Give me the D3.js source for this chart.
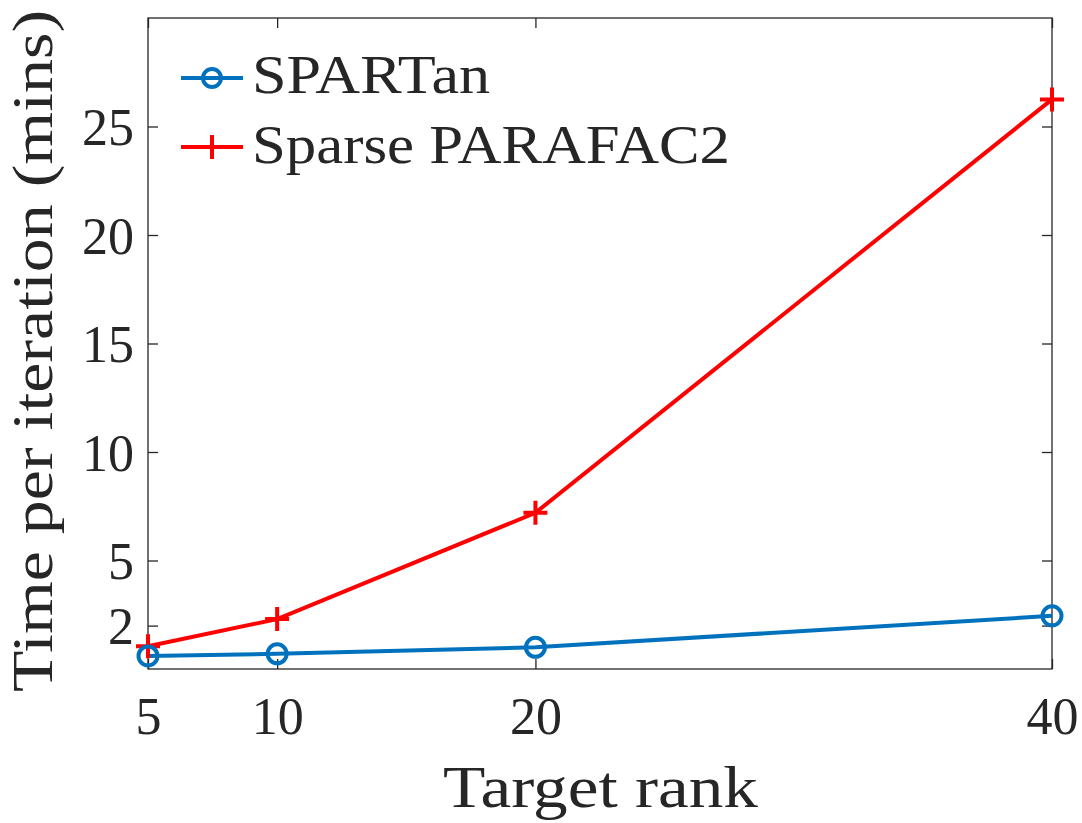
<!DOCTYPE html>
<html><head><meta charset="utf-8">
<script src="https://cdn.jsdelivr.net/npm/d3@7"></script>
<style>body{margin:0;background:#fff}svg text{font-family:"Liberation Serif","Times New Roman",serif;fill:#262626}</style>
</head><body><svg id="c" width="1082" height="823"></svg>
<script>
const ranks = [5, 10, 20, 40];
const spartan = [0.6, 0.7, 1.0, 2.45];
const sparseParafac2 = [1.05, 2.3, 7.2, 26.25];
const xTicks = [5, 10, 20, 40];
const yTicks = [2, 5, 10, 15, 20, 25];
const seriesNames = ["SPARTan", "Sparse PARAFAC2"];

const svg = d3.select("#c");
const L = 148, R = 1052, T = 18, B = 669;
const x = d3.scaleLinear().domain([5, 40]).range([L, R]);
const y = d3.scaleLinear().domain([0, 30]).range([B, T]);
const tk = 10;

const g = svg.append("g");
g.append("rect").attr("x", L).attr("y", T).attr("width", R - L).attr("height", B - T)
  .attr("fill", "none").attr("stroke", "#262626").attr("stroke-width", 1.3);

const xa = g.append("g").attr("transform", `translate(0,${B})`)
  .call(d3.axisBottom(x).tickValues(xTicks).tickSize(-tk).tickPadding(28).tickFormat(d3.format("d")));
const xat = g.append("g").attr("transform", `translate(0,${T})`)
  .call(d3.axisTop(x).tickValues(xTicks).tickSize(-tk).tickFormat(""));
const ya = g.append("g").attr("transform", `translate(${L},0)`)
  .call(d3.axisLeft(y).tickValues(yTicks).tickSize(-tk).tickPadding(14).tickFormat(d3.format("d")));
const yar = g.append("g").attr("transform", `translate(${R},0)`)
  .call(d3.axisRight(y).tickValues(yTicks).tickSize(-tk).tickFormat(""));
[xa, xat, ya, yar].forEach(a => {
  a.select(".domain").remove();
  a.selectAll(".tick line").attr("stroke", "#262626").attr("stroke-width", 1.3);
  a.selectAll("text").style("font-size", "52px").attr("fill", "#262626");
});
xa.selectAll("text").attr("dy", "0.71em");
ya.selectAll("text").attr("dy", "0.35em");

// axis titles
svg.append("text").attr("x", 443).attr("y", 807)
  .attr("textLength", 315).attr("lengthAdjust", "spacingAndGlyphs")
  .style("font-size", "60px").text("Target rank");
svg.append("text").attr("transform", `translate(52,692) rotate(-90)`)
  .attr("textLength", 682).attr("lengthAdjust", "spacingAndGlyphs")
  .style("font-size", "57px").text("Time per iteration (mins)");

const line = d3.line().x((d, i) => x(ranks[i])).y(d => y(d));
const cBlue = "#0072BD", cRed = "#FF0000";

svg.append("path").datum(sparseParafac2).attr("d", line).attr("fill", "none")
  .attr("stroke", cRed).attr("stroke-width", 4);
svg.append("path").datum(spartan).attr("d", line).attr("fill", "none")
  .attr("stroke", cBlue).attr("stroke-width", 4);

const plus = (sel, cx, cy, s, col) => {
  sel.append("path").attr("d", `M${cx - s},${cy}H${cx + s}M${cx},${cy - s}V${cy + s}`)
    .attr("stroke", col).attr("stroke-width", 4).attr("fill", "none");
};
sparseParafac2.forEach((v, i) => plus(svg, x(ranks[i]), y(v), 12, cRed));
svg.selectAll("circle.sp").data(spartan).enter().append("circle")
  .attr("cx", (d, i) => x(ranks[i])).attr("cy", d => y(d)).attr("r", 9.5)
  .attr("fill", "none").attr("stroke", cBlue).attr("stroke-width", 4);

// legend
const leg = svg.append("g");
const ly = [78, 147];
const lbase = [93, 163];
const lwid = [238, 478];
const cols = [cBlue, cRed];
seriesNames.forEach((n, i) => {
  leg.append("line").attr("x1", 181).attr("x2", 243).attr("y1", ly[i]).attr("y2", ly[i])
    .attr("stroke", cols[i]).attr("stroke-width", 4);
  if (i === 0) leg.append("circle").attr("cx", 212).attr("cy", ly[i]).attr("r", 9)
    .attr("fill", "none").attr("stroke", cBlue).attr("stroke-width", 4);
  else plus(leg, 212, ly[i], 12, cRed);
  leg.append("text").attr("x", 252).attr("y", lbase[i])
    .attr("textLength", lwid[i]).attr("lengthAdjust", "spacingAndGlyphs")
    .style("font-size", "55px").text(n);
});
</script></body></html>
